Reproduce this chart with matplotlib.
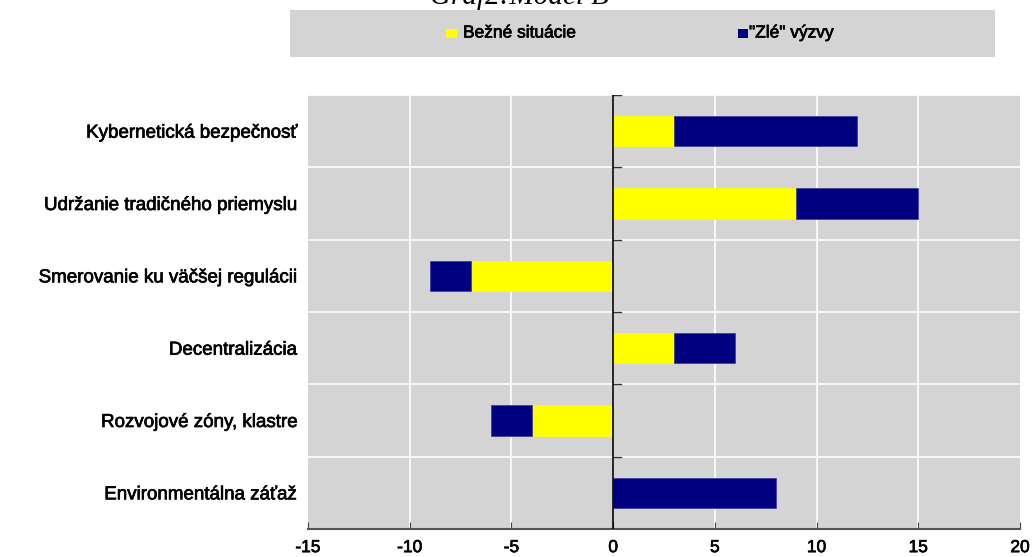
import numpy as np
import matplotlib.pyplot as plt
import matplotlib.patheffects as pe
from matplotlib.patches import Rectangle

categories = ['Kybernetická bezpečnosť', 'Udržanie tradičného priemyslu',
              'Smerovanie ku väčšej regulácii', 'Decentralizácia',
              'Rozvojové zóny, klastre', 'Environmentálna záťaž']
bezne = [3, 9, -7, 3, -4, 0]
zle = [9, 6, -2, 3, -2, 8]
series_names = ['Bežné situácie', '"Zlé" výzvy']
xticks = [-15, -10, -5, 0, 5, 10, 15, 20]

plt.rcParams['font.family'] = ['Liberation Sans', 'DejaVu Sans']
heavy = [pe.withStroke(linewidth=0.5, foreground='black')]

fig = plt.figure(figsize=(10.33, 5.57), dpi=100)
ax = fig.add_axes([308 / 1033, 1 - 529 / 557, 712 / 1033, 434 / 557])
ax.set_facecolor('#d4d4d4')

n = len(categories)
y = np.arange(n)[::-1]
ax.barh(y, bezne, height=0.42, color='#ffff00', edgecolor='#ffff00', linewidth=0.5, zorder=3)
ax.barh(y, zle, left=bezne, height=0.42, color='#000080', edgecolor='#3a3aa0', linewidth=0.5, zorder=3)

ax.set_xlim(xticks[0], xticks[-1])
ax.set_ylim(-0.5, n - 0.5)
ax.set_xticks(xticks)
ax.set_xticklabels([str(v) for v in xticks], fontsize=12.5)
ax.set_yticks(y)
ax.set_yticklabels(categories, fontsize=13.5)
for t in ax.get_xticklabels() + ax.get_yticklabels():
    t.set_path_effects(heavy)
ax.tick_params(axis='y', length=0, pad=8)
ax.tick_params(axis='x', length=5, color='#444444', pad=8, direction='in')

for v in xticks[1:-1]:
    ax.axvline(v, color='white', lw=1.2, zorder=1)
boundaries = np.arange(n + 1) - 0.5
for b in boundaries[1:]:
    ax.axhline(b, color='white', lw=1.2, zorder=1)
    ax.plot([0, 0.4], [b, b], color='#333333', lw=1, zorder=4)
ax.axvline(0, color='black', lw=1.2, zorder=4)

for s in ['top', 'right', 'left']:
    ax.spines[s].set_visible(False)
ax.spines['bottom'].set_color('#555555')
ax.spines['bottom'].set_linewidth(1.5)

# legend band
fig.patches.append(Rectangle((290 / 1033, 1 - 57 / 557), 705 / 1033, 47 / 557,
                             transform=fig.transFigure, facecolor='#d4d4d4',
                             edgecolor='none', zorder=0))
ly = 1 - 33 / 557
fig.patches.append(Rectangle((446 / 1033, ly - 5 / 557), 11 / 1033, 9 / 557,
                             transform=fig.transFigure, facecolor='#ffff00', zorder=1))
fig.text(463 / 1033, ly, series_names[0], fontsize=12.5, va='center', ha='left',
         path_effects=heavy)
fig.patches.append(Rectangle((738 / 1033, ly - 5 / 557), 10 / 1033, 9 / 557,
                             transform=fig.transFigure, facecolor='#000080', zorder=1))
fig.text(749 / 1033, ly, series_names[1], fontsize=12.5, va='center', ha='left',
         path_effects=heavy)

fig.text(519 / 1033, 1 - 4 / 557, 'Graf2:Model B', fontsize=21, style='italic',
         family=['Liberation Serif', 'DejaVu Serif'], ha='center', va='baseline')

fig.savefig('out.png', dpi=100)
